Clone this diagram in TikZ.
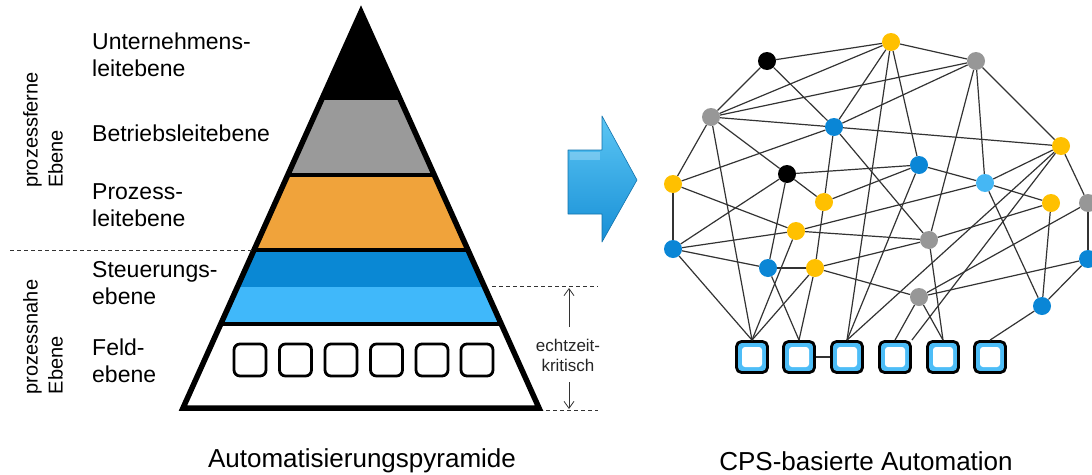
\documentclass[tikz,border=0pt]{standalone}
\usepackage{fontspec}
\setmainfont{Liberation Sans}
\usetikzlibrary{arrows.meta}
\definecolor{pgray}{HTML}{9A9A9A}
\definecolor{porange}{HTML}{F0A33B}
\definecolor{pblue}{HTML}{0A88D4}
\definecolor{plblue}{HTML}{40B8FA}
\definecolor{nyellow}{HTML}{FFC000}
\definecolor{ngray}{HTML}{979797}
\definecolor{nblue}{HTML}{0A86D6}
\definecolor{nlblue}{HTML}{45B7F4}
\definecolor{boxblue}{HTML}{4DBDF7}
\definecolor{edgecol}{HTML}{333333}
\definecolor{arrtop}{HTML}{5CC6F4}
\definecolor{arrbot}{HTML}{178FD6}
\begin{document}
\begin{tikzpicture}[x=1pt,y=-1pt,
  lbl/.style={font=\fontsize{23}{27}\selectfont, align=left, anchor=west, inner sep=0pt},
  vlbl/.style={font=\fontsize{20}{25}\selectfont, align=left, rotate=90, inner sep=0pt},
  fbox/.style={draw=black, line width=2.8pt, rounded corners=6pt, minimum size=32pt, inner sep=0pt, fill=white},
  dot/.style={circle, minimum size=18pt, inner sep=0pt, draw=none},
  edge/.style={draw=edgecol, line width=1.2pt},
  nbox/.style={draw=black, line width=2.8pt, rounded corners=5pt, minimum size=31pt, inner sep=0pt, fill=boxblue},
  nboxin/.style={fill=white, rounded corners=3pt, minimum size=20pt, inner sep=0pt, draw=none},
  dline/.style={dashed, dash pattern=on 4pt off 3pt, line width=0.8pt, draw=black!80},
  marrow/.style={-{Straight Barb[length=7pt,width=10pt]}, line width=0.8pt, draw=black!80},
  capt/.style={font=\fontsize{26}{30}\selectfont, inner sep=0pt}
]
\useasboundingbox (0,0) rectangle (1092,474);

% ---------- pyramid ----------
\coordinate (apex) at (361,12);
\coordinate (bl) at (183,408);
\coordinate (br) at (539,408);
\begin{scope}
  \clip (apex)--(bl)--(br)--cycle;
  \fill[black]   (150,0)   rectangle (600,100);
  \fill[pgray]   (150,100) rectangle (600,175);
  \fill[porange] (150,175) rectangle (600,250);
  \fill[pblue]   (150,250) rectangle (600,287);
  \fill[plblue]  (150,287) rectangle (600,324);
  \fill[white]   (150,324) rectangle (600,412);
  \draw[line width=4pt] (150,175) -- (600,175);
  \draw[line width=4pt] (150,250) -- (600,250);
  \draw[line width=4pt] (150,324) -- (600,324);
\end{scope}
\draw[line width=5.5pt, line join=miter] (apex)--(bl)--(br)--cycle;

\foreach \i/\x in {1/250,2/295.5,3/341,4/386.5,5/432,6/477}
  \node[fbox] (pb\i) at (\x,360) {};

% dashed lines and arrows
\coordinate (dl1) at (10,250);
\coordinate (dl2) at (253,250);
\draw[dline] (dl1) -- (dl2);
\coordinate (dr1) at (492,286);
\coordinate (dr2) at (598,286);
\draw[dline] (dr1) -- (dr2);
\coordinate (dr3) at (546,410);
\coordinate (dr4) at (598,410);
\draw[dline] (dr3) -- (dr4);
\node[font=\fontsize{17}{20}\selectfont, align=center, text=black!85, inner sep=0pt] (echt) at (568,355) {echtzeit-\\kritisch};
\coordinate (au) at (569,288);
\coordinate (ad) at (569,409);
\draw[marrow] (569,327) -- (au);
\draw[marrow] (569,382) -- (ad);

% left labels
\node[lbl] (l1) at (92,55)  {Unternehmens-\\leitebene};
\node[lbl] (l2) at (92,133) {Betriebsleitebene};
\node[lbl] (l3) at (92,205) {Prozess-\\leitebene};
\node[lbl] (l4) at (92,283) {Steuerungs-\\ebene};
\node[lbl] (l5) at (92,361) {Feld-\\ebene};
\node[vlbl] (v1) at (43,130) {prozessferne\\Ebene};
\node[vlbl] (v2) at (43,337) {prozessnahe\\Ebene};

% captions
\node[capt] (c1) at (362,461) {Automatisierungspyramide};
\node[capt] (c2) at (866,461) {CPS-basierte Automation};

% ---------- block arrow ----------
\shade[top color=arrtop, bottom color=arrbot, draw=arrbot!80!black, line width=0.6pt, line join=round]
  (568,150) -- (602,150) -- (602,116) -- (637,180) -- (602,242) -- (602,214) -- (568,214) -- cycle;
\fill[white, opacity=0.25] (570,152) -- (600,152) -- (600,160) -- (570,160) -- cycle;

% ---------- network ----------
\node[dot, fill=black]   (A) at (767,61) {};
\node[dot, fill=nyellow] (B) at (891,42) {};
\node[dot, fill=ngray]   (C) at (976,61) {};
\node[dot, fill=ngray]   (D) at (711,117) {};
\node[dot, fill=nblue]   (E) at (834,127) {};
\node[dot, fill=nyellow] (F) at (1061,146) {};
\node[dot, fill=nblue]   (G) at (919,165) {};
\node[dot, fill=black]   (H) at (787,174) {};
\node[dot, fill=nyellow] (I) at (673,184) {};
\node[dot, fill=nlblue]  (J) at (985,183) {};
\node[dot, fill=nyellow] (K) at (824,202) {};
\node[dot, fill=nyellow] (L) at (1051,203) {};
\node[dot, fill=ngray]   (M) at (1088,203) {};
\node[dot, fill=nyellow] (N) at (796,231) {};
\node[dot, fill=ngray]   (O) at (929,240) {};
\node[dot, fill=nblue]   (P) at (673,249) {};
\node[dot, fill=nblue]   (Q) at (768,268) {};
\node[dot, fill=nyellow] (R) at (815,268) {};
\node[dot, fill=nblue]   (S) at (1088,259) {};
\node[dot, fill=ngray]   (T) at (919,297) {};
\node[dot, fill=nblue]   (U) at (1042,306) {};

\foreach \i/\x in {1/752,2/799,3/847,4/895,5/943,6/990}{
  \node[nbox] (X\i) at (\x,357) {};
  \node[nboxin] (X\i i) at (\x,357) {};
}

\foreach \a/\b in {A/B, A/D, A/E, B/D, B/C, B/E, B/G, C/D, C/E, C/O, C/J, C/F,
  D/E, D/I, D/H, E/F, E/I, E/K, E/O, F/J, F/M, G/H, G/K, G/J, H/K, H/P, H/Q,
  I/P, I/N, J/L, J/U, J/N, K/R, L/O, L/U, M/S, M/T, N/P, N/O, O/R, P/Q, Q/R,
  R/T, S/T, S/U}
  \draw[edge] (\a) -- (\b);
\foreach \a/\b in {D/X1, P/X1, R/X1, N/X1, Q/X2, R/X2, B/X3, G/X3, F/X3,
  T/X4, O/X5, T/X5, U/X6}
  \draw[edge] (\a) -- (\b.north);
\draw[edge] (F) -- (X4.north east);
\draw[edge] (X2) -- (X3);
\end{tikzpicture}
\end{document}
